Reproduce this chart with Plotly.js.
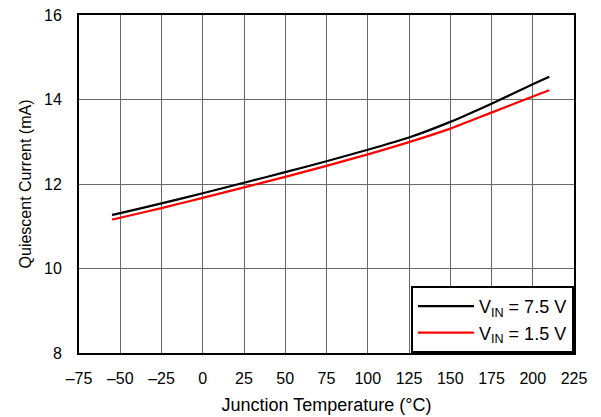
<!DOCTYPE html>
<html><head><meta charset="utf-8">
<script src="https://cdn.plot.ly/plotly-3.0.1.min.js"></script>
<style>html,body{margin:0;padding:0;background:#fff}</style>
</head><body>
<div id="chart" style="width:601px;height:417px"></div>
<script>
const temps = [-55, -50, -25, 0, 25, 50, 75, 100, 125, 150, 175, 200, 210];
const iqV75 = [11.27, 11.31, 11.54, 11.78, 12.03, 12.28, 12.54, 12.81, 13.10, 13.47, 13.90, 14.36, 14.54];
const iqV15 = [11.16, 11.20, 11.43, 11.67, 11.92, 12.17, 12.43, 12.70, 12.99, 13.31, 13.69, 14.07, 14.22];
const xTicks = [-75, -50, -25, 0, 25, 50, 75, 100, 125, 150, 175, 200, 225];
const yTicks = [8, 10, 12, 14, 16];

const traces = [
  {x: temps, y: iqV75, mode: 'lines', name: 'V<sub>IN</sub> = 7.5 V', legendgroup: 'a',
   line: {color: '#000000', width: 2.2, shape: 'spline', smoothing: 0.6}},
  {x: temps, y: iqV15, mode: 'lines', name: 'V<sub>IN</sub> = 1.5 V', legendgroup: 'b',
   line: {color: '#ff0000', width: 2.2, shape: 'spline', smoothing: 0.6}}
];
const layout = {
  width: 601, height: 417,
  margin: {l: 79, r: 27, t: 15, b: 64},
  paper_bgcolor: '#fff', plot_bgcolor: '#fff',
  font: {family: 'Liberation Sans, Arial, sans-serif', size: 16, color: '#000'},
  xaxis: {range: [-75, 225], tickvals: xTicks, ticktext: xTicks.map(v => v < 0 ? '\u2013' + Math.abs(v) : String(v)),
    showgrid: true, gridcolor: '#6a6a6a', gridwidth: 1, zeroline: false,
    showline: true, linecolor: '#000', linewidth: 2, mirror: true, ticks: '', ticklabelstandoff: 10,
    tickfont: {size: 16}, title: {text: 'Junction Temperature (°C)', font: {size: 18}, standoff: 12}},
  yaxis: {range: [8, 16], tickvals: yTicks, showgrid: true, gridcolor: '#6a6a6a', gridwidth: 1, zeroline: false,
    showline: true, linecolor: '#000', linewidth: 2, mirror: true, ticks: '', ticklabelstandoff: 12,
    tickfont: {size: 16}, title: {text: 'Quiescent Current (mA)', font: {size: 16}, standoff: 8}},
  showlegend: true,
  legend: {x: 1, y: 0, xanchor: 'right', yanchor: 'bottom', bgcolor: '#fff', bordercolor: '#000', borderwidth: 2,
    font: {size: 18}, itemwidth: 56, traceorder: 'grouped', tracegroupgap: 0}
};
Plotly.newPlot('chart', traces, layout, {displayModeBar: false, staticPlot: true});
</script>
</body></html>
